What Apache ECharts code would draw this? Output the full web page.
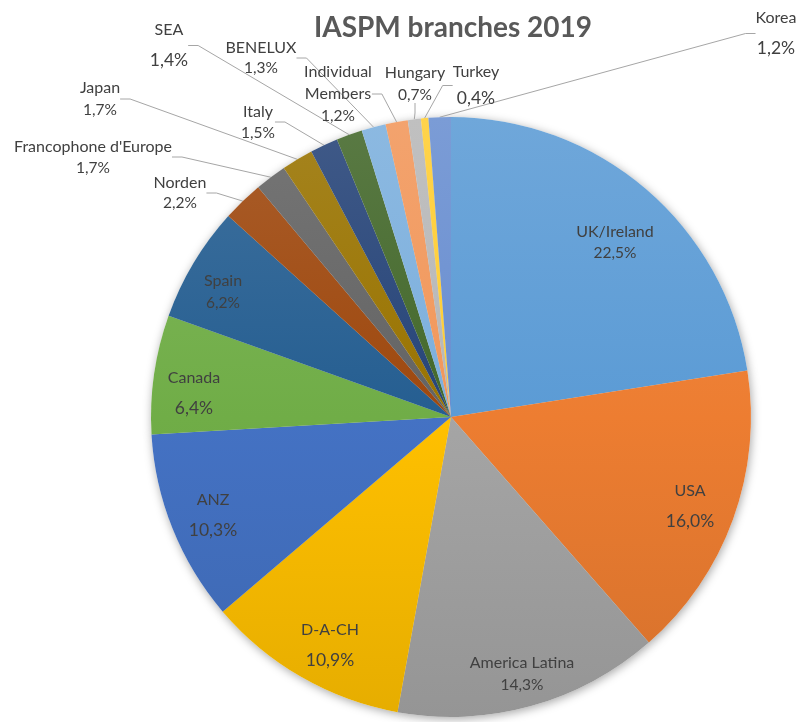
<!DOCTYPE html>
<html><head><meta charset="utf-8">
<script src="https://cdn.jsdelivr.net/npm/echarts@6/dist/echarts.min.js"></script>
<style>html,body{margin:0;padding:0;background:#fff}#c{width:802px;height:722px}</style>
</head><body><div id="c"></div><script>
const categories = ['UK/Ireland','USA','America Latina','D-A-CH','ANZ','Canada','Spain','Norden',"Francophone d'Europe",'Japan','Italy','SEA','BENELUX','Individual\nMembers','Hungary','Turkey','Korea'];
const shares = [22.5,16.0,14.3,10.9,10.3,6.4,6.2,2.2,1.7,1.7,1.5,1.4,1.3,1.2,0.7,0.4,1.2];
const insideLabel = [true,true,true,true,true,true,true,false,false,false,false,false,false,false,false,false,false];

// label layout (separate from the data): [x, y, lineHeight, percentFontSize]
const labelSpots = [
  [615,242,21,15.5],[690,506,30,17.5],[522,674,22,15.5],[330,645,30,17.5],[213,515,30,17.5],
  [194,393,30,17.5],[223,292,22,15.5],[180,193,20,15.5],[93,157,21,15.5],[100,99,22,15.5],
  [258,122,21,15.5],[169,45,30,17.5],[261,58,20,15.5],[338,94,22,15.5],[415,84,22,15.5],
  [476,85,27,17.5],[776,33,30,17.5]
];
const palette = ['#5B9BD5','#ED7D31','#A5A5A5','#FFC000','#4472C4','#70AD47','#255E91','#9E480E','#636363','#997300','#264478','#43682B','#7CAFDD','#F1975A','#B7B7B7','#FFCD33','#698ED0'];

function mix(hex, target, t){
  const n = parseInt(hex.slice(1),16);
  let r=(n>>16)&255,g=(n>>8)&255,b=n&255;
  r=Math.round(r+(target-r)*t); g=Math.round(g+(target-g)*t); b=Math.round(b+(target-b)*t);
  return 'rgb('+r+','+g+','+b+')';
}
const CX=451, CY=417, R=300;
function grad(hex){
  return {type:'linear', global:true, x:0, y:CY-R, x2:0, y2:CY+R,
    colorStops:[{offset:0,color:mix(hex,255,0.12)},{offset:0.5,color:hex},{offset:1,color:mix(hex,0,0.1)}]};
}
const fmtPct = v => v.toFixed(1).replace('.', ',') + '%';

const data = categories.map((name,i)=>({
  name, value: shares[i],
  itemStyle:{color:grad(palette[i])},
  label:{
    position: insideLabel[i] ? 'inside' : 'outside',
    rich:{
      n:{fontSize:16, lineHeight:labelSpots[i][2], color:'#404040', fontFamily:'Lato'},
      p:{fontSize:labelSpots[i][3], lineHeight:labelSpots[i][2], color:'#404040', fontFamily:'Lato'}
    }
  },
  labelLine:{show: !insideLabel[i]}
}));

const chart = echarts.init(document.getElementById('c'), null, {renderer:'canvas'});
chart.setOption({
  animation:false,
  backgroundColor:'#fff',
  title:{text:'IASPM branches 2019', left:CX-3, textAlign:'center', top:9,
    textStyle:{fontFamily:'Lato', fontWeight:'bold', fontSize:28, color:'#595959'}},
  series:[
    {
      type:'pie', silent:true, center:[CX,CY], radius:R, startAngle:90, clockwise:true,
      data: shares.map(v=>({value:v})), label:{show:false}, labelLine:{show:false},
      itemStyle:{color:'#fff', shadowBlur:10, shadowColor:'rgba(0,0,0,0.35)', shadowOffsetX:1, shadowOffsetY:2},
      z:1
    },
    {
      type:'pie', center:[CX,CY], radius:R, startAngle:90, clockwise:true,
      avoidLabelOverlap:false, z:2,
      itemStyle:{borderWidth:0},
      label:{show:true, formatter: p => '{n|'+p.name.split('\n').join('}\n{n|')+'}\n{p|'+fmtPct(p.value)+'}',
        align:'center', overflow:'none'},
      labelLine:{length:10,length2:10, lineStyle:{color:'#A6A6A6', width:1}, smooth:false},
      labelLayout: function(params){
        const s = labelSpots[params.dataIndex];
        return {x:s[0], y:s[1], align:'center', verticalAlign:'middle'};
      },
      data
    }
  ]
});
</script></body></html>
